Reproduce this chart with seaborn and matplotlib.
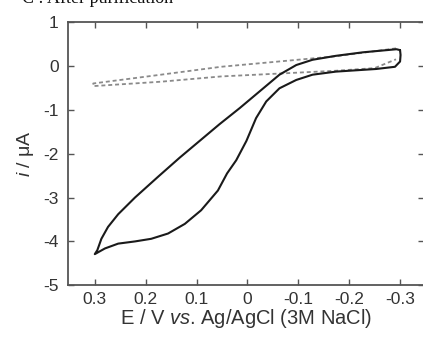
import numpy as np
import pandas as pd
import matplotlib
matplotlib.use("Agg")
import matplotlib.pyplot as plt
import seaborn as sns

# Solid CV (after purification): potential (V) and current (uA), traced in scan order
solid_E = [-0.300, -0.293, -0.227, -0.174, -0.128, -0.096, -0.063, -0.024, 0.015, 0.055,
           0.094, 0.133, 0.175, 0.221, 0.254, 0.274, 0.287, 0.295, 0.300,
           0.280, 0.254, 0.221, 0.189, 0.156, 0.123, 0.091, 0.058, 0.040, 0.022,
           0.002, -0.017, -0.037, -0.063, -0.096, -0.128, -0.174, -0.253, -0.290,
           -0.300, -0.301, -0.300]
solid_i = [0.36, 0.38, 0.31, 0.23, 0.14, 0.02, -0.20, -0.58, -0.96, -1.33,
           -1.71, -2.09, -2.52, -3.00, -3.38, -3.67, -3.94, -4.20, -4.29,
           -4.16, -4.05, -4.00, -3.94, -3.82, -3.60, -3.29, -2.84, -2.45, -2.15,
           -1.71, -1.19, -0.81, -0.51, -0.32, -0.20, -0.13, -0.07, -0.02,
           0.10, 0.25, 0.36]

# Dashed CV (background)
dash_E = [-0.292, -0.174, 0.052, 0.17, 0.303, 0.303, 0.17, 0.052, -0.174, -0.25, -0.292]
dash_i = [0.40, 0.22, -0.02, -0.20, -0.40, -0.46, -0.36, -0.24, -0.11, -0.05, 0.15]

x_ticks = [0.3, 0.2, 0.1, 0, -0.1, -0.2, -0.3]
x_ticklabels = ["0.3", "0.2", "0.1", "0", "-0.1", "-0.2", "-0.3"]
y_ticks = [1, 0, -1, -2, -3, -4, -5]

sns.set_style("white")
plt.rcParams['font.family'] = ['Liberation Sans', 'DejaVu Sans']
plt.rcParams['mathtext.fontset'] = 'custom'
plt.rcParams['mathtext.rm'] = 'Liberation Sans'
plt.rcParams['mathtext.it'] = 'Liberation Sans:italic'

fig = plt.figure(figsize=(4.23, 3.39), dpi=100)
ax = fig.add_axes([0.1615, 0.1584, 0.842, 0.7766])

df_s = pd.DataFrame({"E": solid_E, "i": solid_i})
df_d = pd.DataFrame({"E": dash_E, "i": dash_i})

sns.lineplot(data=df_d, x="E", y="i", sort=False, estimator=None, ax=ax,
             color="#8a8a8a", lw=1.3, linestyle=(0, (2.2, 1.6)))
sns.lineplot(data=df_s, x="E", y="i", sort=False, estimator=None, ax=ax,
             color="#1a1a1a", lw=1.5, solid_joinstyle="round", solid_capstyle="round")

ax.set_xlim(0.352, -0.348)
ax.set_ylim(-5, 1)
ax.set_xticks(x_ticks)
ax.set_xticklabels(x_ticklabels)
ax.set_yticks(y_ticks)
ax.set_yticklabels([str(v) for v in y_ticks])
ax.tick_params(direction="in", length=4, width=1, color="#555555",
               top=True, right=True, bottom=True, left=True,
               labelsize=12.5, labelcolor="#333333")
ax.tick_params(axis="y", pad=7)
ax.tick_params(axis="x", pad=5)
for s in ax.spines.values():
    s.set_color("#555555")
    s.set_linewidth(1.3)

ax.set_xlabel(r"E / V $\it{vs}$. Ag/AgCl (3M NaCl)", fontsize=14.5, color="#333333", labelpad=0)
ax.set_ylabel(r"$\it{i}$ / μA", fontsize=14, color="#333333", labelpad=5)

fig.text(0.052, 0.99, "C : After purification", family="Liberation Serif",
         fontsize=13, va="baseline", ha="left", color="#111111")

fig.savefig("out.png", dpi=100)
